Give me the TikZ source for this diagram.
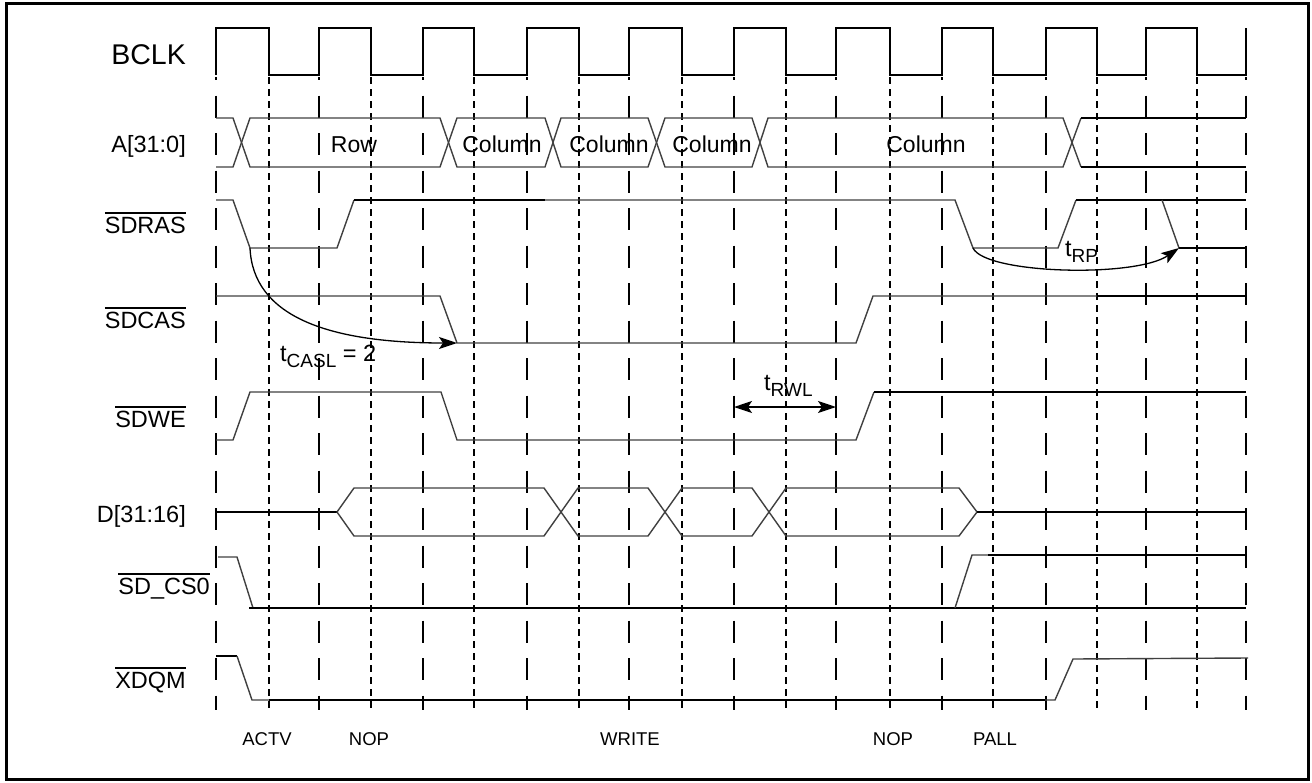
\documentclass[tikz,border=0pt]{standalone}
\usepackage{fontspec}
\setmainfont{Liberation Sans}
\usetikzlibrary{arrows.meta}
\newcommand\ovl[1]{\vbox{\hrule height 1.3pt\kern 3pt\hbox{#1}}}
\newcommand\tsub[2]{#1\raisebox{-6pt}{\fontsize{19}{19}\selectfont #2}}
\begin{document}
\begin{tikzpicture}[x=1pt,y=-1pt,
  sig/.style={line width=1.4pt, draw=black!75},
  sigk/.style={line width=2.3pt, draw=black},
  clkline/.style={line width=2.3pt, draw=black},
  gridR/.style={line width=1.2pt, dash pattern=on 22pt off 15.5pt, dash phase=19pt},
  gridF/.style={line width=1.2pt, dash pattern=on 7pt off 5pt},
  lbl/.style={anchor=base east, inner sep=0pt, font=\fontsize{23.5}{23.5}\selectfont},
  cmd/.style={anchor=base, inner sep=0pt, font=\fontsize{18.5}{18.5}\selectfont},
  bustxt/.style={anchor=base, inner sep=0pt, font=\fontsize{23}{23}\selectfont},
  tim/.style={anchor=base west, inner sep=0pt, font=\fontsize{23.5}{23.5}\selectfont},
  arr/.style={line width=1.3pt, draw=black, -{Stealth[length=18pt,width=12pt,inset=4pt]}},
  darr/.style={line width=1.3pt, draw=black, {Stealth[length=18pt,width=12pt,inset=4pt]}-{Stealth[length=18pt,width=12pt,inset=4pt]}},
]
\useasboundingbox (0,0) rectangle (1312,782);
% frame
\draw[line width=3pt] (6.5,3.5) rectangle (1308,779);

% grid lines
\foreach \x in {216,319,423,527,629,734,836,942,1046,1146,1246}
  \draw[gridR] (\x,77) -- (\x,710);
\foreach \x in {269,371,474,579,682,786,890,993,1097,1197}
  \draw[gridF] (\x,77) -- (\x,712);

% labels
\node[lbl, font=\fontsize{28.5}{28.5}\selectfont] (lbclk) at (186,64) {BCLK};
\node[lbl] (la) at (186,152) {A[31:0]};
\node[lbl] (lras) at (186,233) {\ovl{SDRAS}};
\node[lbl] (lcas) at (186,328) {\ovl{SDCAS}};
\node[lbl] (lwe) at (186,427) {\ovl{SDWE}};
\node[lbl] (ld) at (186,522) {D[31:16]};
\node[lbl] (lcs) at (210,594) {\ovl{SD\_CS0}};
\node[lbl] (ldqm) at (186,688) {\ovl{XDQM}};

% clock
\draw[clkline] (216,75)--(216,28)--(269,28)--(269,75)--(319,75)--(319,28)--(371,28)--(371,75)--(423,75)--(423,28)--(474,28)--(474,75)--(527,75)--(527,28)--(579,28)--(579,75)--(629,75)--(629,28)--(682,28)--(682,75)--(734,75)--(734,28)--(786,28)--(786,75)--(836,75)--(836,28)--(890,28)--(890,75)--(942,75)--(942,28)--(993,28)--(993,75)--(1046,75)--(1046,28)--(1097,28)--(1097,75)--(1146,75)--(1146,28)--(1197,28)--(1197,75)--(1246,75)--(1246,28);

% A bus
\draw[sig] (216,118)--(233,118)--(250,167)--(440,167)--(457,118)--(545,118)--(561,167)--(648,167)--(665,118)--(752,118)--(768,167)--(1063,167)--(1081,118);
\draw[sig] (216,167)--(233,167)--(250,118)--(440,118)--(457,167)--(545,167)--(561,118)--(648,118)--(665,167)--(752,167)--(768,118)--(1063,118)--(1081,167);
\draw[sigk] (1081,118)--(1246,118);
\draw[sigk] (1081,167)--(1246,167);
\node[bustxt] (trow) at (354,152) {Row};
\node[bustxt] (tc1) at (502,152) {Column};
\node[bustxt] (tc2) at (609,152) {Column};
\node[bustxt] (tc3) at (712,152) {Column};
\node[bustxt] (tc4) at (926,152) {Column};

% SDRAS
\draw[sig] (216,200)--(233,200)--(250,248)--(337,248)--(354,200);
\draw[sigk] (354,200)--(545,200);
\draw[sig] (545,200)--(955,200)--(973,248)--(1058,248)--(1076,200);
\draw[sigk] (1076,200)--(1246,200);
\draw[sig] (1162,200)--(1179,248);
\draw[sigk] (1179,248)--(1246,248);

% SDCAS
\draw[sig] (216,296)--(440,296)--(457,343)--(856,343)--(873,296)--(1097,296);
\draw[sigk] (1097,296)--(1246,296);

% SDWE
\draw[sig] (216,440)--(233,440)--(250,392)--(441,392)--(457,440)--(856,440)--(874,392);
\draw[sigk] (874,392)--(1246,392);

% D bus
\draw[sigk, line width=1.8pt] (216,512)--(337,512);
\draw[sig] (337,512)--(354,488)--(544,488)--(578,536)--(648,536)--(682,488)--(752,488)--(786,536)--(959,536)--(977,512);
\draw[sig] (337,512)--(354,536)--(544,536)--(578,488)--(648,488)--(682,536)--(752,536)--(786,488)--(959,488)--(977,512);
\draw[sigk] (977,512)--(1246,512);

% SD_CS0
\draw[sig] (218,557)--(237,557)--(253,608);
\draw[sigk] (249,608)--(1246,608);
\draw[sig] (955,608)--(972,555)--(988,555);
\draw[sigk] (988,555)--(1246,555);

% XDQM
\draw[sigk] (216,656)--(237,656);
\draw[sig] (237,656)--(252,700)--(269,700);
\draw[sigk] (269,700)--(1045,700);
\draw[sig] (1045,700)--(1055,700)--(1073,659)--(1248,658);

% timing arrows
\coordinate (caslS) at (250,248);
\coordinate (caslE) at (457,343);
\draw[arr] (caslS) .. controls (253,315) and (325,343) .. (caslE);
\node[tim] (tcasl) at (280,361) {\tsub{t}{CASL} = 2};

\coordinate (rwlA) at (734,407);
\coordinate (rwlB) at (836,407);
\draw[darr] (rwlA) -- (rwlB);
\node[tim] (trwl) at (764,390) {\tsub{t}{RWL}};

\coordinate (rpS) at (973,248);
\coordinate (rpE) at (1179,248);
\draw[arr] (rpS) .. controls (985,274) and (1135,278) .. (rpE);
\node[tim] (trp) at (1065,256) {\tsub{t}{RP}};

% command labels
\node[cmd] (cactv) at (267,745) {ACTV};
\node[cmd] (cnop1) at (369,745) {NOP};
\node[cmd] (cwrite) at (630,745) {WRITE};
\node[cmd] (cnop2) at (893,745) {NOP};
\node[cmd] (cpall) at (995,745) {PALL};
\end{tikzpicture}
\end{document}
